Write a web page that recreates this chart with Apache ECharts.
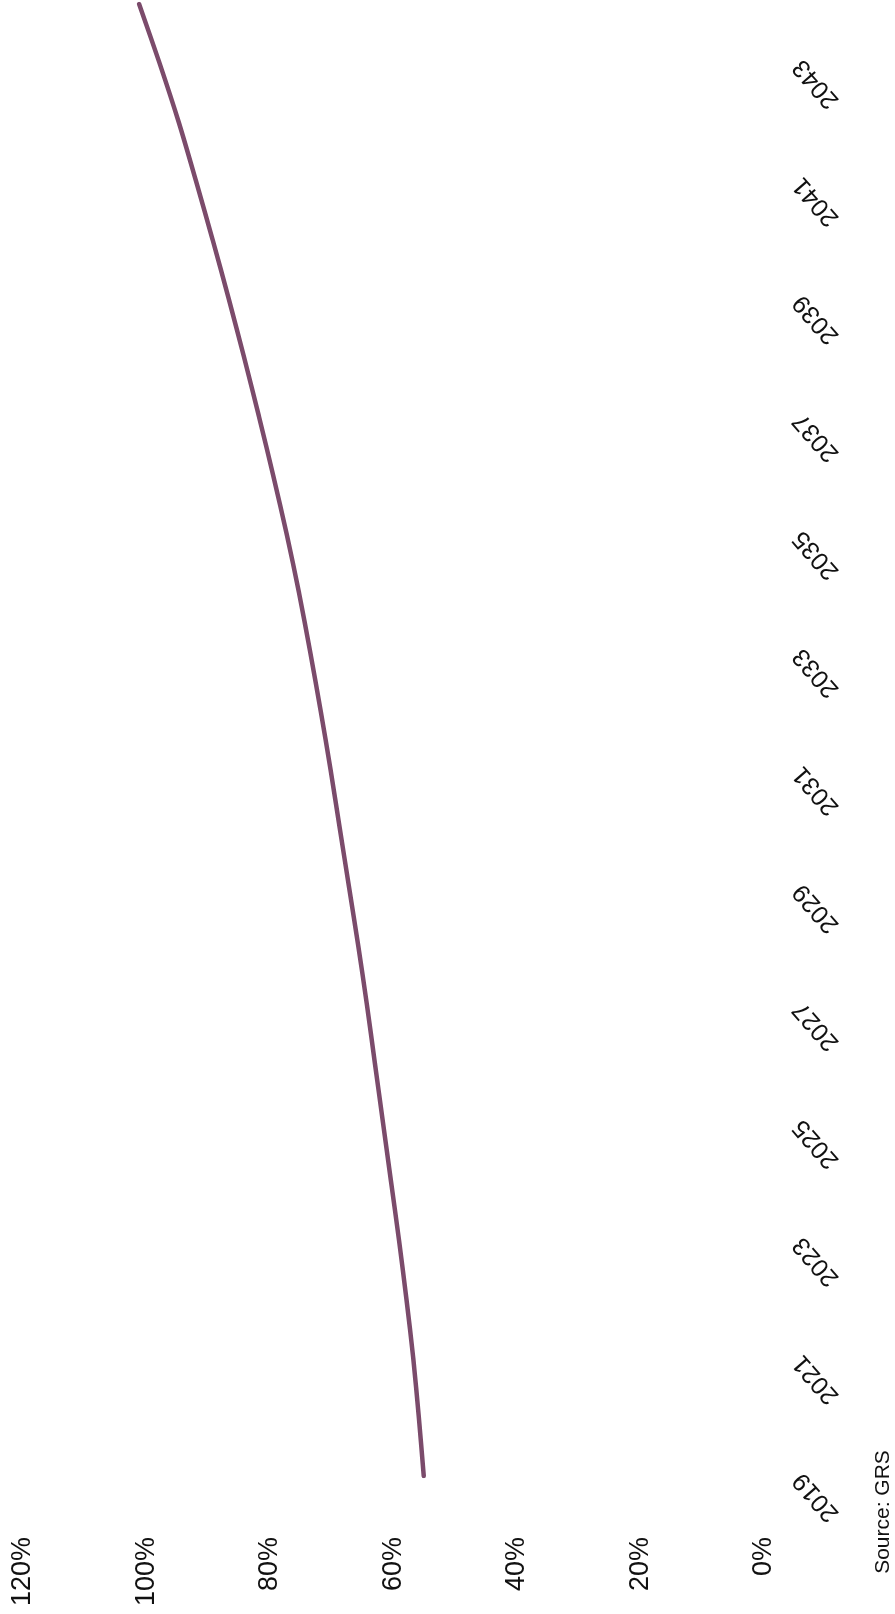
<!DOCTYPE html>
<html>
<head>
<meta charset="utf-8">
<script src="https://cdn.jsdelivr.net/npm/echarts@6/dist/echarts.min.js"></script>
<style>
html,body{margin:0;padding:0;background:#fff;}
#chart{width:895px;height:1614px;}
</style>
</head>
<body>
<div id="chart"></div>
<script>
var years = ['2019','2020','2021','2022','2023','2024','2025','2026','2027','2028','2029','2030','2031','2032','2033','2034','2035','2036','2037','2038','2039','2040','2041','2042','2043','2044'];
var shareValues = [55.1,55.9,56.8,57.9,59.1,60.4,61.7,63.0,64.3,65.7,67.2,68.7,70.2,71.8,73.5,75.3,77.3,79.5,81.8,84.2,86.7,89.3,92.0,94.8,97.9,101.2];
var percentTicks = {min: 0, max: 120, interval: 20};
var sourceText = 'Source: GRS';

var sans = '"Liberation Sans Narrow", "Arial Narrow", "Liberation Sans", Arial, sans-serif';
var chart = echarts.init(document.getElementById('chart'));
chart.setOption({
  backgroundColor: '#ffffff',
  animation: false,
  grid: {left: 23, right: 131, top: 4, bottom: 138, containLabel: false},
  xAxis: {
    type: 'value',
    inverse: true,
    position: 'bottom',
    min: percentTicks.min,
    max: percentTicks.max,
    interval: percentTicks.interval,
    axisLine: {show: false},
    axisTick: {show: false},
    splitLine: {show: false},
    axisLabel: {
      rotate: 90,
      margin: 61,
      formatter: '{value}%',
      color: '#111',
      fontSize: 27,
      fontFamily: sans
    }
  },
  yAxis: {
    type: 'category',
    data: years,
    position: 'right',
    boundaryGap: false,
    axisLine: {show: false},
    axisTick: {show: false},
    splitLine: {show: false},
    axisLabel: {
      interval: 1,
      rotate: 131,
      align: 'right',
      verticalAlign: 'middle',
      margin: 34,
      padding: 0,
      color: '#111',
      fontSize: 25,
      fontFamily: '"Liberation Sans", Arial, sans-serif'
    }
  },
  series: [{
    type: 'line',
    data: shareValues,
    smooth: 0.3,
    showSymbol: false,
    lineStyle: {color: '#7b4b6b', width: 4.5, cap: 'round'},
    itemStyle: {color: '#7b4b6b'}
  }],
  graphic: [{
    type: 'text',
    x: 883,
    y: 1512,
    rotation: Math.PI / 2,
    style: {
      text: sourceText,
      fill: '#111',
      fontSize: 21,
      fontFamily: sans,
      textAlign: 'center',
      textVerticalAlign: 'middle'
    }
  }]
});
</script>
</body>
</html>
